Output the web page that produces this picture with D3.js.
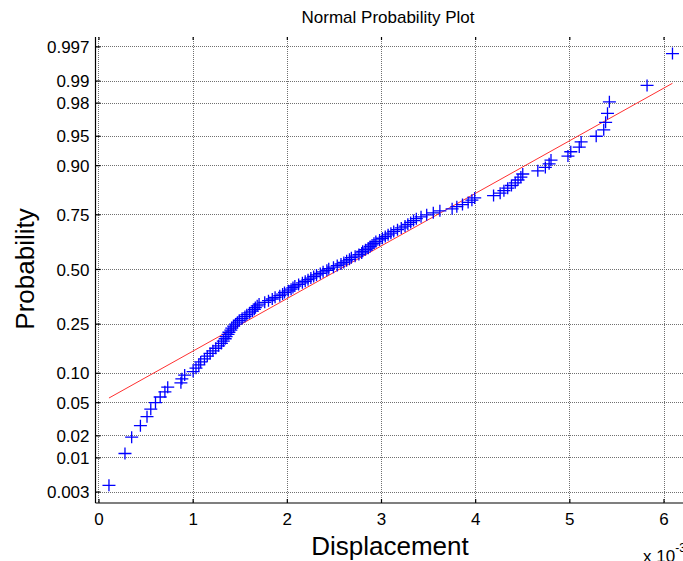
<!DOCTYPE html>
<html>
<head>
<meta charset="utf-8">
<script src="https://cdn.jsdelivr.net/npm/d3@7"></script>
<style>
body { margin: 0; background: #fff; }
text { font-family: "Liberation Sans", Arial, sans-serif; fill: #000; }
</style>
</head>
<body>
<svg id="chart" width="683" height="561"></svg>
<script>
// sorted displacement samples, in units of 1e-3
var displacement = [
  0.106, 0.276, 0.347, 0.44, 0.51, 0.55, 0.60, 0.65, 0.70, 0.73,
  0.87, 0.88, 0.91, 1.00, 1.03, 1.06, 1.08, 1.12, 1.15, 1.18,
  1.21, 1.24, 1.27, 1.30, 1.32, 1.34, 1.35, 1.37, 1.38, 1.40,
  1.41, 1.43, 1.45, 1.47, 1.49, 1.52, 1.55, 1.57, 1.60, 1.63,
  1.65, 1.66, 1.68, 1.70, 1.76, 1.80, 1.84, 1.87, 1.92, 1.95,
  1.97, 2.01, 2.04, 2.06, 2.08, 2.12, 2.16, 2.19, 2.22, 2.25,
  2.28, 2.31, 2.35, 2.38, 2.42, 2.44, 2.49, 2.53, 2.57, 2.60,
  2.63, 2.66, 2.68, 2.72, 2.76, 2.79, 2.80, 2.83, 2.86, 2.88,
  2.90, 2.92, 2.94, 2.98, 3.01, 3.04, 3.07, 3.10, 3.13, 3.17,
  3.21, 3.25, 3.28, 3.31, 3.34, 3.37, 3.42, 3.48, 3.55, 3.62,
  3.75, 3.80, 3.86, 3.92, 3.96, 3.99, 4.19, 4.26, 4.30, 4.34,
  4.38, 4.42, 4.45, 4.48, 4.50, 4.66, 4.74, 4.78, 4.80, 4.98,
  5.01, 5.10, 5.12, 5.28, 5.36, 5.38, 5.40, 5.42, 5.82, 6.09
];

var probTicks = [0.003, 0.01, 0.02, 0.05, 0.10, 0.25, 0.50, 0.75, 0.90, 0.95, 0.98, 0.99, 0.997];
var probLabels = ["0.003", "0.01", "0.02", "0.05", "0.10", "0.25", "0.50", "0.75", "0.90", "0.95", "0.98", "0.99", "0.997"];
var xTicks = [0, 1, 2, 3, 4, 5, 6];

// reference line (normal fit), units of 1e-3
var fitMu = 2.55, fitSigma = 1.54;

// inverse normal cdf (Acklam)
function norminv(p) {
  var a = [-3.969683028665376e+01, 2.209460984245205e+02, -2.759285104469687e+02, 1.383577518672690e+02, -3.066479806614716e+01, 2.506628277459239e+00];
  var b = [-5.447609879822406e+01, 1.615858368580409e+02, -1.556989798598866e+02, 6.680131188771972e+01, -1.328068155922803e+01];
  var c = [-7.784894002430293e-03, -3.223964580411365e-01, -2.400758277161838e+00, -2.549732539343734e+00, 4.374664141464968e+00, 2.938163982698783e+00];
  var d = [7.784695709041462e-03, 3.224671290700398e-01, 2.445134137142996e+00, 3.754408661907416e+00];
  var plow = 0.02425, q, r;
  if (p < plow) {
    q = Math.sqrt(-2 * Math.log(p));
    return (((((c[0]*q+c[1])*q+c[2])*q+c[3])*q+c[4])*q+c[5]) / ((((d[0]*q+d[1])*q+d[2])*q+d[3])*q+1);
  }
  if (p > 1 - plow) {
    q = Math.sqrt(-2 * Math.log(1 - p));
    return -(((((c[0]*q+c[1])*q+c[2])*q+c[3])*q+c[4])*q+c[5]) / ((((d[0]*q+d[1])*q+d[2])*q+d[3])*q+1);
  }
  q = p - 0.5; r = q * q;
  return (((((a[0]*r+a[1])*r+a[2])*r+a[3])*r+a[4])*r+a[5])*q / (((((b[0]*r+b[1])*r+b[2])*r+b[3])*r+b[4])*r+1);
}

var svg = d3.select("#chart");
var plotL = 95.5, plotT = 37, plotB = 503;

var x = d3.scaleLinear().domain([-0.037, 6.35]).range([plotL, plotL + 6.387 * 94.17]);
var y = d3.scaleLinear().domain([-2.883, 2.870]).range([plotB, plotT]);
var plotR = x.range()[1];

svg.append("rect").attr("width", 683).attr("height", 561).attr("fill", "#fff");

// grid
var grid = svg.append("g").attr("stroke", "#707070").attr("stroke-width", 1)
  .attr("stroke-dasharray", "1,1").attr("fill", "none").attr("shape-rendering", "crispEdges");
grid.selectAll(".vg").data(xTicks).enter().append("line")
  .attr("x1", function(d){return x(d)}).attr("x2", function(d){return x(d)})
  .attr("y1", plotT).attr("y2", plotB);
grid.selectAll(".hg").data(probTicks).enter().append("line")
  .attr("x1", plotL).attr("x2", plotR)
  .attr("y1", function(d){return y(norminv(d))}).attr("y2", function(d){return y(norminv(d))});

// axes lines and ticks
var ax = svg.append("g").attr("stroke", "#000").attr("stroke-width", 1.2).attr("fill", "none");
ax.append("line").attr("x1", plotL).attr("x2", plotL).attr("y1", plotT).attr("y2", plotB);
ax.append("line").attr("x1", plotL).attr("x2", plotR).attr("y1", plotB).attr("y2", plotB);
ax.selectAll(".bt").data(xTicks).enter().append("line")
  .attr("x1", function(d){return x(d)}).attr("x2", function(d){return x(d)})
  .attr("y1", plotB).attr("y2", plotB - 4);
ax.selectAll(".tt").data(xTicks).enter().append("line")
  .attr("x1", function(d){return x(d)}).attr("x2", function(d){return x(d)})
  .attr("y1", plotT).attr("y2", plotT + 3);
ax.selectAll(".lt").data(probTicks).enter().append("line")
  .attr("x1", plotL).attr("x2", plotL + 5)
  .attr("y1", function(d){return y(norminv(d))}).attr("y2", function(d){return y(norminv(d))});

// tick labels
svg.selectAll(".yl").data(probTicks).enter().append("text")
  .attr("x", plotL - 6).attr("y", function(d){return y(norminv(d))})
  .attr("dy", "0.36em").attr("text-anchor", "end").style("font-size", "17px")
  .text(function(d,i){return probLabels[i]});
svg.selectAll(".xl").data(xTicks).enter().append("text")
  .attr("x", function(d){return x(d)}).attr("y", 525)
  .attr("text-anchor", "middle").style("font-size", "17px")
  .text(function(d){return d});

// reference line
var ext = d3.extent(displacement);
var line = d3.line().x(function(d){return x(d)}).y(function(d){return y((d - fitMu) / fitSigma)});
svg.append("path").datum(ext).attr("d", line)
  .attr("fill", "none").attr("stroke", "#ff3030").attr("stroke-width", 1);

// data markers
var n = displacement.length;
svg.append("g").selectAll("path").data(displacement).enter().append("path")
  .attr("transform", function(d,i){return "translate(" + x(d) + "," + y(norminv((i + 0.5) / n)) + ")"})
  .attr("d", "M-6.5,0H6.5M0,-6V6")
  .attr("fill", "none").attr("stroke", "#0000ff").attr("stroke-width", 1.3);

// titles
svg.append("text").attr("x", 388).attr("y", 23).attr("text-anchor", "middle")
  .style("font-size", "17px").text("Normal Probability Plot");
svg.append("text").attr("x", 390).attr("y", 555).attr("text-anchor", "middle")
  .style("font-size", "26px").text("Displacement");
svg.append("text").attr("transform", "translate(34,269) rotate(-90)").attr("text-anchor", "middle")
  .style("font-size", "26px").text("Probability");
var ex = svg.append("text").attr("x", 643).attr("y", 562).style("font-size", "17px");
ex.append("tspan").text("x 10");
ex.append("tspan").attr("dy", -10).style("font-size", "12px").text("-3");
</script>
</body>
</html>
